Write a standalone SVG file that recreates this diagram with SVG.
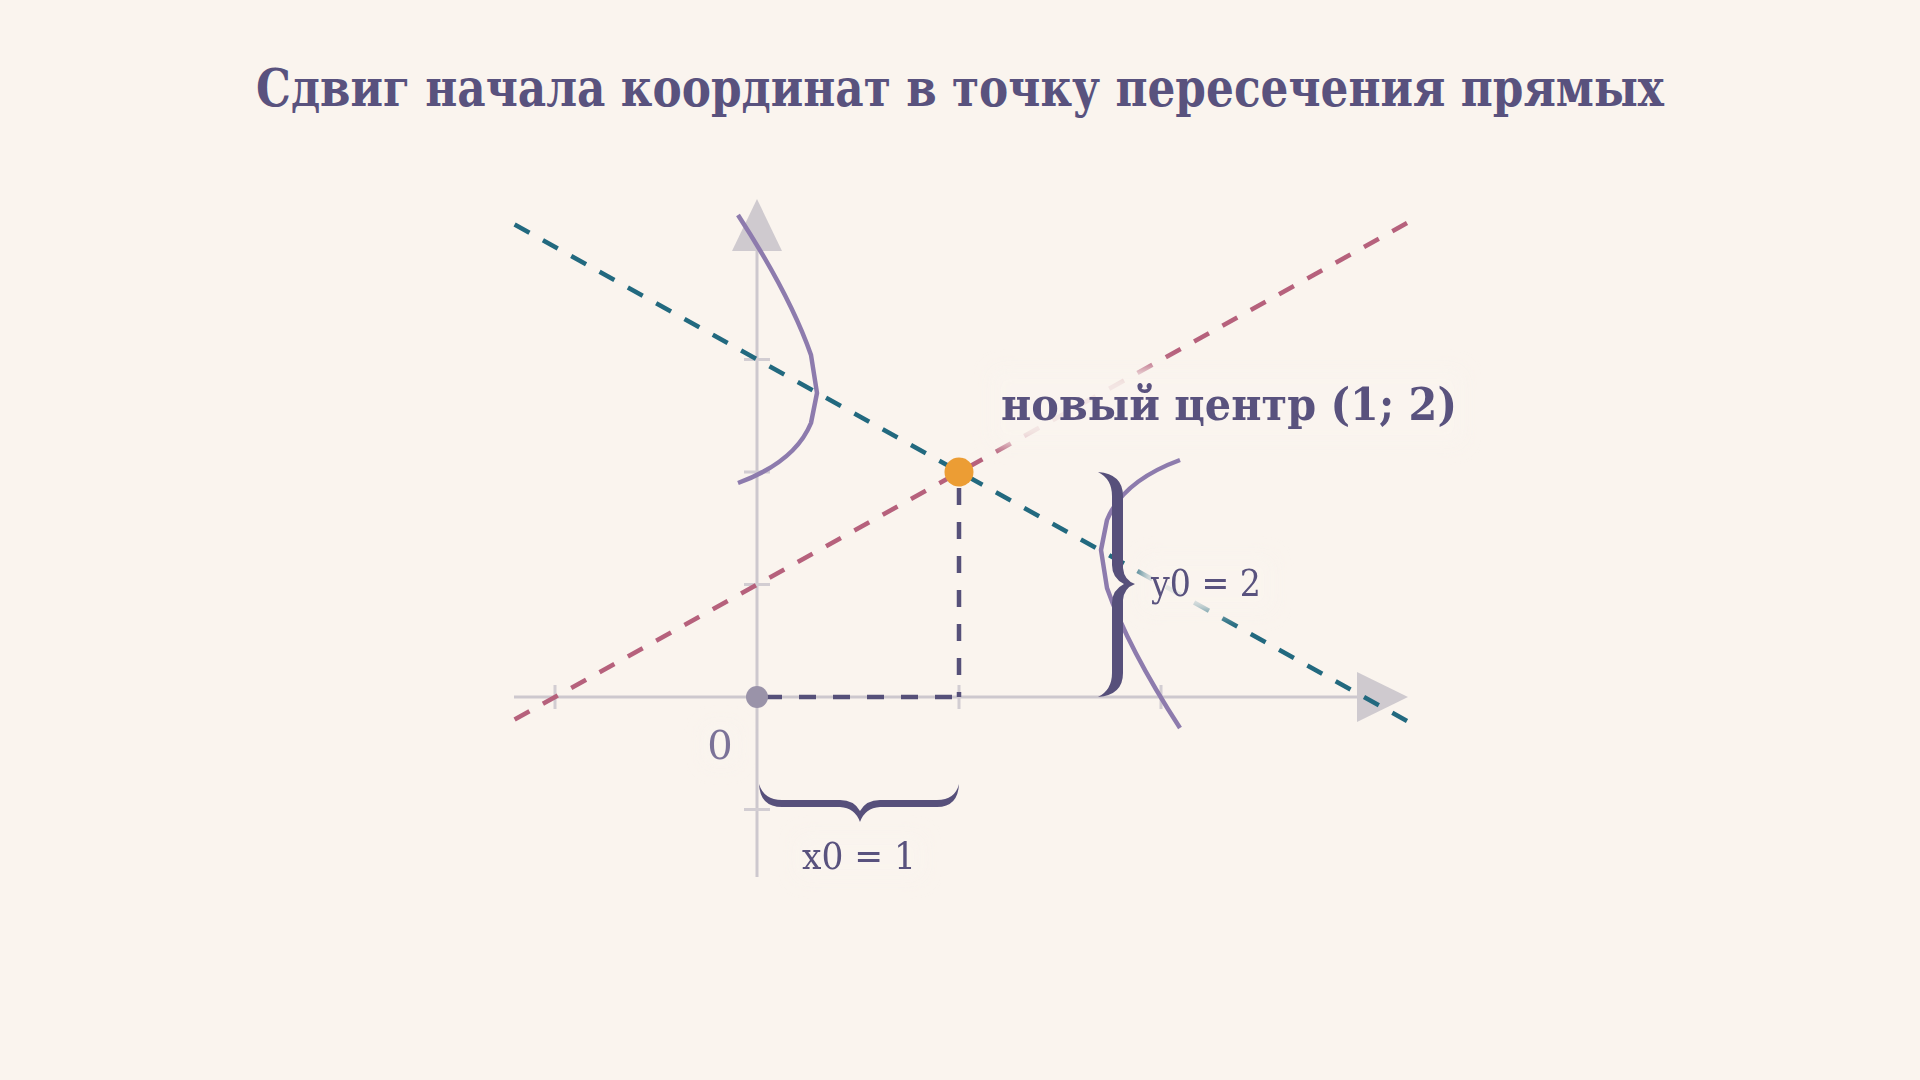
<svg xmlns="http://www.w3.org/2000/svg" width="1920" height="1080" viewBox="0 0 1920 1080">
<defs>
<style>
.axis{stroke:#CDC8CE;stroke-width:3;fill:none}
.tick{stroke:#D2CDD2;stroke-width:3;fill:none}
.arrow{fill:#CFCACF}
.teal{stroke:#22697F;stroke-width:4.5;stroke-dasharray:17 15.4;fill:none}
.pink{stroke:#B6617C;stroke-width:4.5;stroke-dasharray:17 15.4;fill:none}
.drop{stroke:#565079;stroke-width:4.5;stroke-dasharray:17 17;fill:none}
.curve{stroke:#8D7BAD;stroke-width:4.5;fill:none;stroke-linejoin:round;stroke-linecap:butt}
.brace{fill:#57507B}
.halo{fill:#FAF4EE;opacity:0.9}
.title{font-family:"DejaVu Serif",serif;font-weight:700;fill:#59527E}
.lbl{font-family:"DejaVu Serif",serif;fill:#59527E}
</style>
<filter id="blur" x="-30%" y="-50%" width="160%" height="200%"><feGaussianBlur stdDeviation="8"/></filter>
</defs>
<rect width="1920" height="1080" fill="#FAF4EE"/>
<text class="title" x="960" y="106" font-size="52" text-anchor="middle" textLength="1408" lengthAdjust="spacingAndGlyphs">Сдвиг начала координат в точку пересечения прямых</text>
<g id="axes">
<line class="axis" x1="514" y1="697" x2="1370" y2="697"/>
<line class="axis" x1="757" y1="877" x2="757" y2="240"/>
<polygon class="arrow" points="1408,697 1357,672 1357,722"/>
<polygon class="arrow" points="757,199 732,251 782,251"/>
<g class="tick">
<line x1="744" y1="584.5" x2="770" y2="584.5"/>
<line x1="744" y1="472" x2="770" y2="472"/>
<line x1="744" y1="359.5" x2="770" y2="359.5"/>
<line x1="744" y1="809.5" x2="770" y2="809.5"/>
<line x1="555" y1="685" x2="555" y2="709"/>
<line x1="959" y1="685" x2="959" y2="709"/>
<line x1="1161" y1="685" x2="1161" y2="709"/>
</g>
</g>
<g id="connectors">
<line class="teal" x1="514.6" y1="224.5" x2="1407" y2="721"/>
<line class="pink" x1="514.6" y1="719.5" x2="1407" y2="223"/>
<path id="curve-left" class="curve" d="M738,215 Q790,295 811,355 L817,393 L811,423 Q795,462 738,483"/>
<path id="curve-right" class="curve" transform="rotate(180 959 471.5)" d="M738,215 Q790,295 811,355 L817,393 L811,423 Q795,462 738,483"/>
<line class="drop" x1="959" y1="488" x2="959" y2="697"/>
<line class="drop" x1="765" y1="697" x2="959" y2="697"/>
</g>
<g id="halos" filter="url(#blur)">
<rect class="halo" x="990" y="368" width="475" height="78" rx="12"/>
<rect class="halo" x="1140" y="555" width="135" height="58" rx="10"/>
<rect class="halo" x="795" y="834" width="130" height="46" rx="10"/>
<rect class="halo" x="703" y="724" width="36" height="42" rx="8"/>
</g>
<g id="brace-y">
<path class="brace" d="M1098,472 Q1123,474 1123,496 L1123,568 Q1124,580 1135,584 Q1124,588 1123,600 L1123,673 Q1123,695 1098,697 Q1112,690 1112,673 L1112,603 Q1112,590 1124,584 Q1112,578 1112,565 L1112,496 Q1112,479 1098,472 Z"/>
</g>
<g id="brace-x">
<path class="brace" d="M759,784 Q760,807 782,807 L840,807 Q855,808 860,822 Q865,808 880,807 L937,807 Q958,807 959,784 Q955,800 937,800 L880,800 Q866,800 860,811 Q854,800 840,800 L782,800 Q764,800 759,784 Z"/>
</g>
<g id="origin">
<circle cx="757" cy="697" r="11" fill="#9A93A9"/>
<text class="lbl" x="720" y="759" font-size="40" text-anchor="middle" style="fill:#7B7298">0</text>
</g>
<g id="center">
<circle cx="959" cy="472" r="14.5" fill="#EC9D34"/>
<text class="title" x="1001" y="420" font-size="44" textLength="456" lengthAdjust="spacingAndGlyphs">новый центр (1; 2)</text>
</g>
<g id="label-y0">
<text class="lbl" x="1151" y="596" font-size="38" textLength="110" lengthAdjust="spacingAndGlyphs">y0 = 2</text>
</g>
<g id="label-x0">
<text class="lbl" x="859" y="869" font-size="38" text-anchor="middle" textLength="114" lengthAdjust="spacingAndGlyphs">x0 = 1</text>
</g>
</svg>
